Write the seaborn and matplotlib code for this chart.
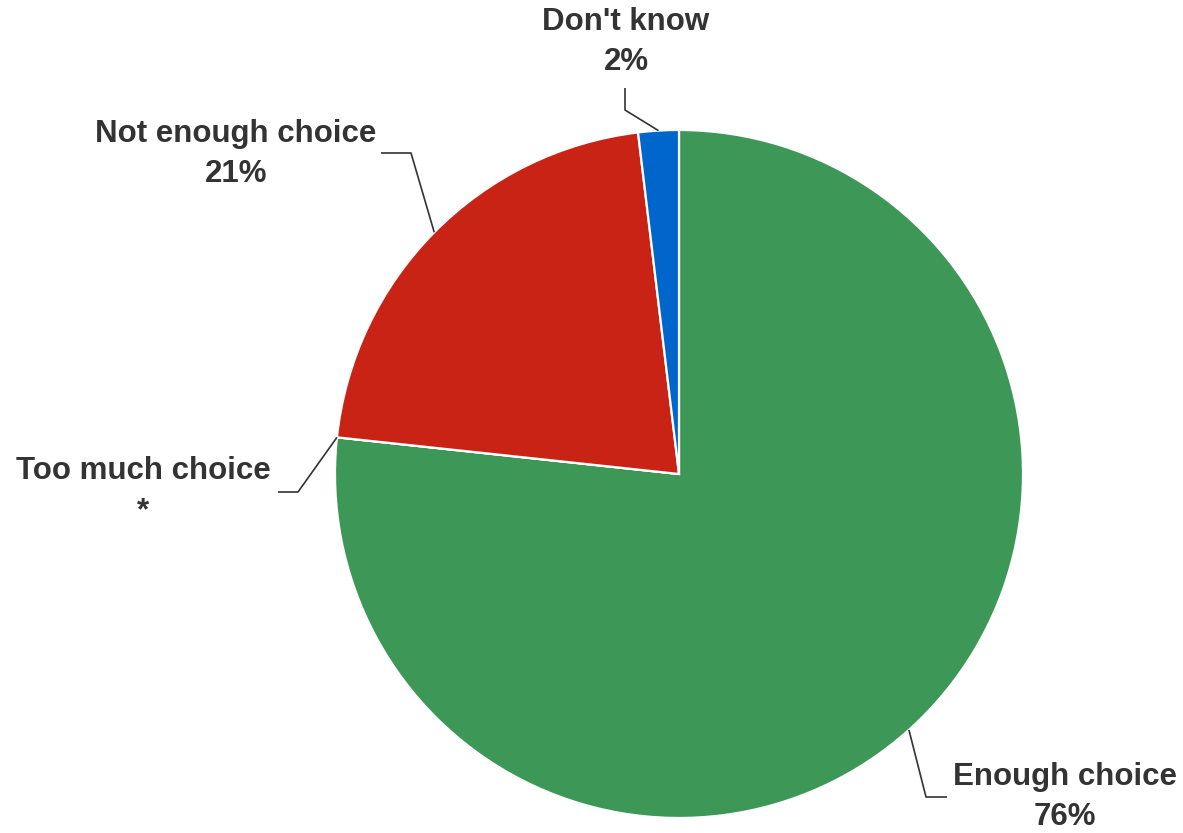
import numpy as np
import matplotlib
matplotlib.use("Agg")
import matplotlib.pyplot as plt
import seaborn as sns

# datos
categorias = ["Enough choice", "Too much choice", "Not enough choice", "Don't know"]
valores = [76.7, 0.0, 21.4, 1.9]
etiquetas = ["76%", "*", "21%", "2%"]
colores = ["#3D9858", "#C92316", "#C92316", "#0066CC"]

sns.set_theme(style="white")
plt.rcParams['font.family'] = ['Liberation Sans', 'DejaVu Sans']

fig = plt.figure(figsize=(11.83, 8.33), dpi=100)
ax = fig.add_axes([0, 0, 1, 1])

cx, cy, r = 679, 833 - 474, 344
wedges, _ = ax.pie(valores, colors=colores, startangle=90, counterclock=False,
                   radius=r, center=(cx, cy), frame=True,
                   wedgeprops=dict(edgecolor='white', linewidth=1.6))
ax.set_xlim(0, 1183)
ax.set_ylim(0, 833)
ax.set_aspect('equal')
ax.axis('off')

# (codo de la linea, fin de la linea, posicion del texto)
guias = [
    ((926, 797), (947, 797), (1065, 797)),
    ((298, 492), (278, 492), (143, 491)),
    ((411, 153), (381, 153), (236, 154)),
    ((625, 110), (625, 88), (626, 42)),
]

for w, cat, lab, (codo, fin, pos) in zip(wedges, categorias, etiquetas, guias):
    ang = np.deg2rad((w.theta1 + w.theta2) / 2)
    px, py = cx + r * np.cos(ang), cy + r * np.sin(ang)
    xs = [px, codo[0], fin[0]]
    ys = [py, 833 - codo[1], 833 - fin[1]]
    ax.plot(xs, ys, color='#333333', lw=1.2, solid_capstyle='butt')
    ax.text(pos[0], 833 - pos[1], f"{cat}\n{lab}", ha='center', va='center',
            fontsize=22.5, fontweight='bold', color='#333333', linespacing=1.45)

plt.savefig("out.png", dpi=100)
